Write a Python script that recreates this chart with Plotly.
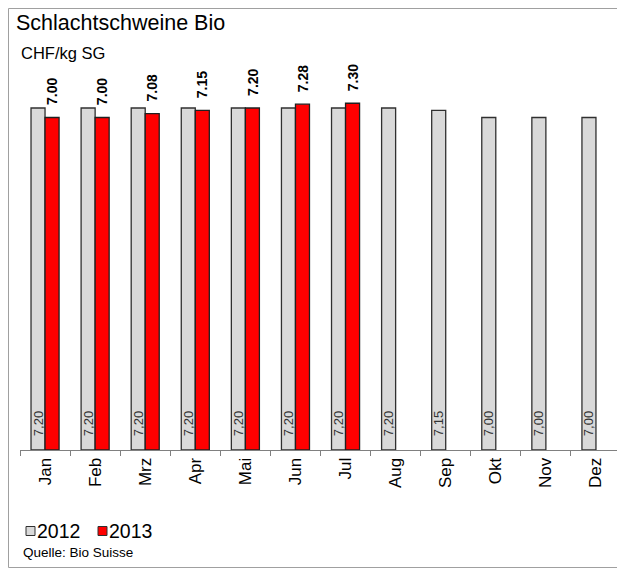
import plotly.graph_objects as go

months = ["Jan", "Feb", "Mrz", "Apr", "Mai", "Jun", "Jul", "Aug", "Sep", "Okt", "Nov", "Dez"]
v2012 = [7.20, 7.20, 7.20, 7.20, 7.20, 7.20, 7.20, 7.20, 7.15, 7.00, 7.00, 7.00]
v2013 = [7.00, 7.00, 7.08, 7.15, 7.20, 7.28, 7.30, None, None, None, None, None]
series_names = ["2012", "2013"]
series_colors = ["#d9d9d9", "#ff0000"]

FONT = "Liberation Sans, Arial, sans-serif"
NB = "\u00a0"
BARGAP = 0.44

# page offset (body margin) -> figure coordinates
OFF = 8
FW, FH = 625 - OFF, 569 - OFF
# plot area in page pixels: x 20..621, y 70..450
L, R, T, B = 20 - OFF, 621 - OFF, 70 - OFF, 450 - OFF
W, H = R - L, B - T
def px(x): return (x - OFF - L) / W
def py(y): return (B - (y - OFF)) / H

fig = go.Figure()
fig.add_trace(go.Bar(
    name=series_names[0], x=months, y=v2012,
    marker=dict(color=series_colors[0], line=dict(color="#303030", width=1.3)),
    text=[NB * 3 + f"{v:.2f}".replace(".", ",") for v in v2012],
    textposition="inside", insidetextanchor="start", textangle=-90,
    constraintext="none",
    textfont=dict(family=FONT, size=13, color="#333333"),
))
fig.add_trace(go.Bar(
    name=series_names[1], x=months, y=v2013,
    marker=dict(color=series_colors[1], line=dict(color="#202020", width=1.3)),
))

# value labels for 2013 (rotated, above the red bars, placed in data coordinates)
half_bar = (1 - BARGAP) / 4  # offset of 2nd bar centre from category centre
label_annots = []
for i, v in enumerate(v2013):
    if v is None:
        continue
    label_annots.append(dict(text=f"<b>{v:.2f}</b>", x=i + half_bar, y=v, xref="x", yref="y",
                             xanchor="center", yanchor="bottom", yshift=11, textangle=-90,
                             showarrow=False, borderpad=0,
                             font=dict(size=14, family=FONT, color="#000000")))

# compact legend (boxes + labels)
legend_shapes = []
legend_annots = []
leg_x = [26, 98]
for i, (nm, col) in enumerate(zip(series_names, series_colors)):
    x0 = leg_x[i]
    legend_shapes.append(dict(type="rect", xref="paper", yref="paper",
                              x0=px(x0), x1=px(x0 + 9), y0=py(535.5), y1=py(526.5),
                              fillcolor=col, line=dict(color="#303030", width=1)))
    legend_annots.append(dict(text=nm, xref="paper", yref="paper", x=px(x0 + 10), y=py(531),
                              xanchor="left", yanchor="middle", showarrow=False, borderpad=0,
                              font=dict(size=19.5, family=FONT, color="#000000")))

fig.update_layout(
    width=FW, height=FH,
    margin=dict(l=L, r=FW - R, t=T, b=FH - B, autoexpand=False),
    paper_bgcolor="white", plot_bgcolor="white",
    barmode="group", bargap=BARGAP, bargroupgap=0,
    font=dict(family=FONT, color="#000000"),
    showlegend=False,
    xaxis=dict(showline=True, linecolor="#808080", linewidth=1, ticks="outside",
               tickson="boundaries", ticklen=5, tickcolor="#808080", tickangle=-90,
               tickfont=dict(size=17, family=FONT, color="#000000"), showgrid=False,
               automargin=False),
    yaxis=dict(range=[0, 8], visible=False, showgrid=False, zeroline=False, automargin=False),
    shapes=[dict(type="rect", xref="paper", yref="paper",
                 x0=px(8.5), x1=px(622), y0=py(567.5), y1=py(8.5),
                 line=dict(color="#a0a0a0", width=1))] + legend_shapes,
    annotations=[
        dict(text="Schlachtschweine Bio", xref="paper", yref="paper", x=px(15), y=py(23),
             xanchor="left", yanchor="middle", showarrow=False, borderpad=0,
             font=dict(size=21.5, family=FONT, color="#000000")),
        dict(text="CHF/kg SG", xref="paper", yref="paper", x=px(20), y=py(53),
             xanchor="left", yanchor="middle", showarrow=False, borderpad=0,
             font=dict(size=16.5, family=FONT, color="#000000")),
        dict(text="Quelle: Bio Suisse", xref="paper", yref="paper", x=px(22), y=py(552),
             xanchor="left", yanchor="middle", showarrow=False, borderpad=0,
             font=dict(size=13.5, family=FONT, color="#000000")),
    ] + legend_annots + label_annots,
)

fig.write_html("out.html")
